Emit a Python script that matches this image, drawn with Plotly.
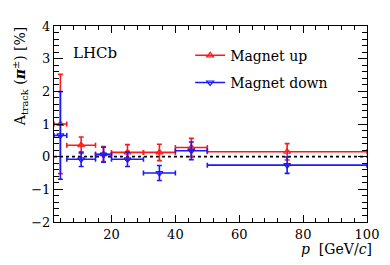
import plotly.graph_objects as go

# Bin centres and half-widths in p [GeV/c]
p_center = [4, 10.5, 17.5, 25, 35, 45, 75]
p_halfwidth = [2, 4.5, 2.5, 5, 5, 5, 25]

# Magnet up
up_val = [1.0, 0.35, 0.08, 0.13, 0.13, 0.28, 0.15]
up_err = [1.52, 0.25, 0.23, 0.24, 0.25, 0.28, 0.25]

# Magnet down
down_val = [0.65, -0.08, 0.06, -0.08, -0.5, 0.18, -0.26]
down_err = [1.34, 0.22, 0.23, 0.22, 0.23, 0.27, 0.25]

x_range = [2, 100]
y_range = [-2, 4]
x_ticks = [20, 40, 60, 80, 100]
y_ticks = [-2, -1, 0, 1, 2, 3, 4]

FONT = "DejaVu Serif"
RED = "#ff1a1a"
BLUE = "#1a1aff"

fig = go.Figure()

# zero reference line
fig.add_trace(go.Scatter(x=x_range, y=[0, 0], mode="lines",
                         line=dict(color="black", width=1.6, dash="dot"),
                         showlegend=False, hoverinfo="skip"))

for name, vals, errs, col, sym in [
    ("Magnet up", up_val, up_err, RED, "triangle-up-open"),
    ("Magnet down", down_val, down_err, BLUE, "triangle-down-open"),
]:
    fig.add_trace(go.Scatter(
        x=p_center, y=vals, mode="markers",
        marker=dict(symbol=sym, size=6, color=col, line=dict(width=1.2, color=col)),
        error_x=dict(type="data", array=p_halfwidth, color=col, thickness=1.6, width=2.5),
        error_y=dict(type="data", array=errs, color=col, thickness=1.6, width=2.5),
        showlegend=False,
    ))
    fig.add_trace(go.Scatter(
        x=[None], y=[None], mode="lines+markers", name=name,
        line=dict(color=col, width=1.6),
        marker=dict(symbol=sym, size=6, color=col, line=dict(width=1.2, color=col)),
        legendgroup=name,
    ))

axis_common = dict(
    showline=True, linecolor="black", linewidth=1.2, mirror="allticks",
    ticks="inside", tickcolor="black", tickwidth=1,
    showgrid=False, zeroline=False,
    tickfont=dict(family=FONT, size=13, color="black"),
)

fig.update_xaxes(range=x_range, tickvals=x_ticks, ticklen=7,
                 minor=dict(ticks="inside", dtick=4, tick0=0, ticklen=4,
                            tickcolor="black", showgrid=False),
                 **axis_common)
fig.update_yaxes(range=y_range, tickvals=y_ticks, ticklen=9,
                 minor=dict(ticks="inside", dtick=0.2, tick0=0, ticklen=4.5,
                            tickcolor="black", showgrid=False),
                 **axis_common)

fig.update_layout(
    width=382, height=257,
    margin=dict(l=46, r=19, t=11, b=43),
    paper_bgcolor="white", plot_bgcolor="white",
    font=dict(family=FONT, size=14, color="black"),
    legend=dict(x=0.435, y=0.93, xanchor="left", yanchor="top",
                bgcolor="rgba(0,0,0,0)", tracegroupgap=6,
                font=dict(family=FONT, size=14), itemwidth=30),
    annotations=[
        dict(text="LHCb", x=0.055, y=0.86, xref="paper", yref="paper",
             xanchor="left", yanchor="middle", showarrow=False,
             font=dict(family=FONT, size=15)),
        dict(text="<i>p</i>  [GeV/<i>c</i>]", x=1.022, y=-0.14,
             xref="paper", yref="paper", xanchor="right", yanchor="middle",
             showarrow=False, font=dict(family=FONT, size=14)),
        dict(text="A<sub>track</sub> (<i><b>π</b></i><sup>±</sup>) [%]",
             x=-0.108, y=1.01, xref="paper", yref="paper",
             xanchor="center", yanchor="top", textangle=-90,
             showarrow=False, font=dict(family=FONT, size=14)),
    ],
)

fig.write_html("out.html")
